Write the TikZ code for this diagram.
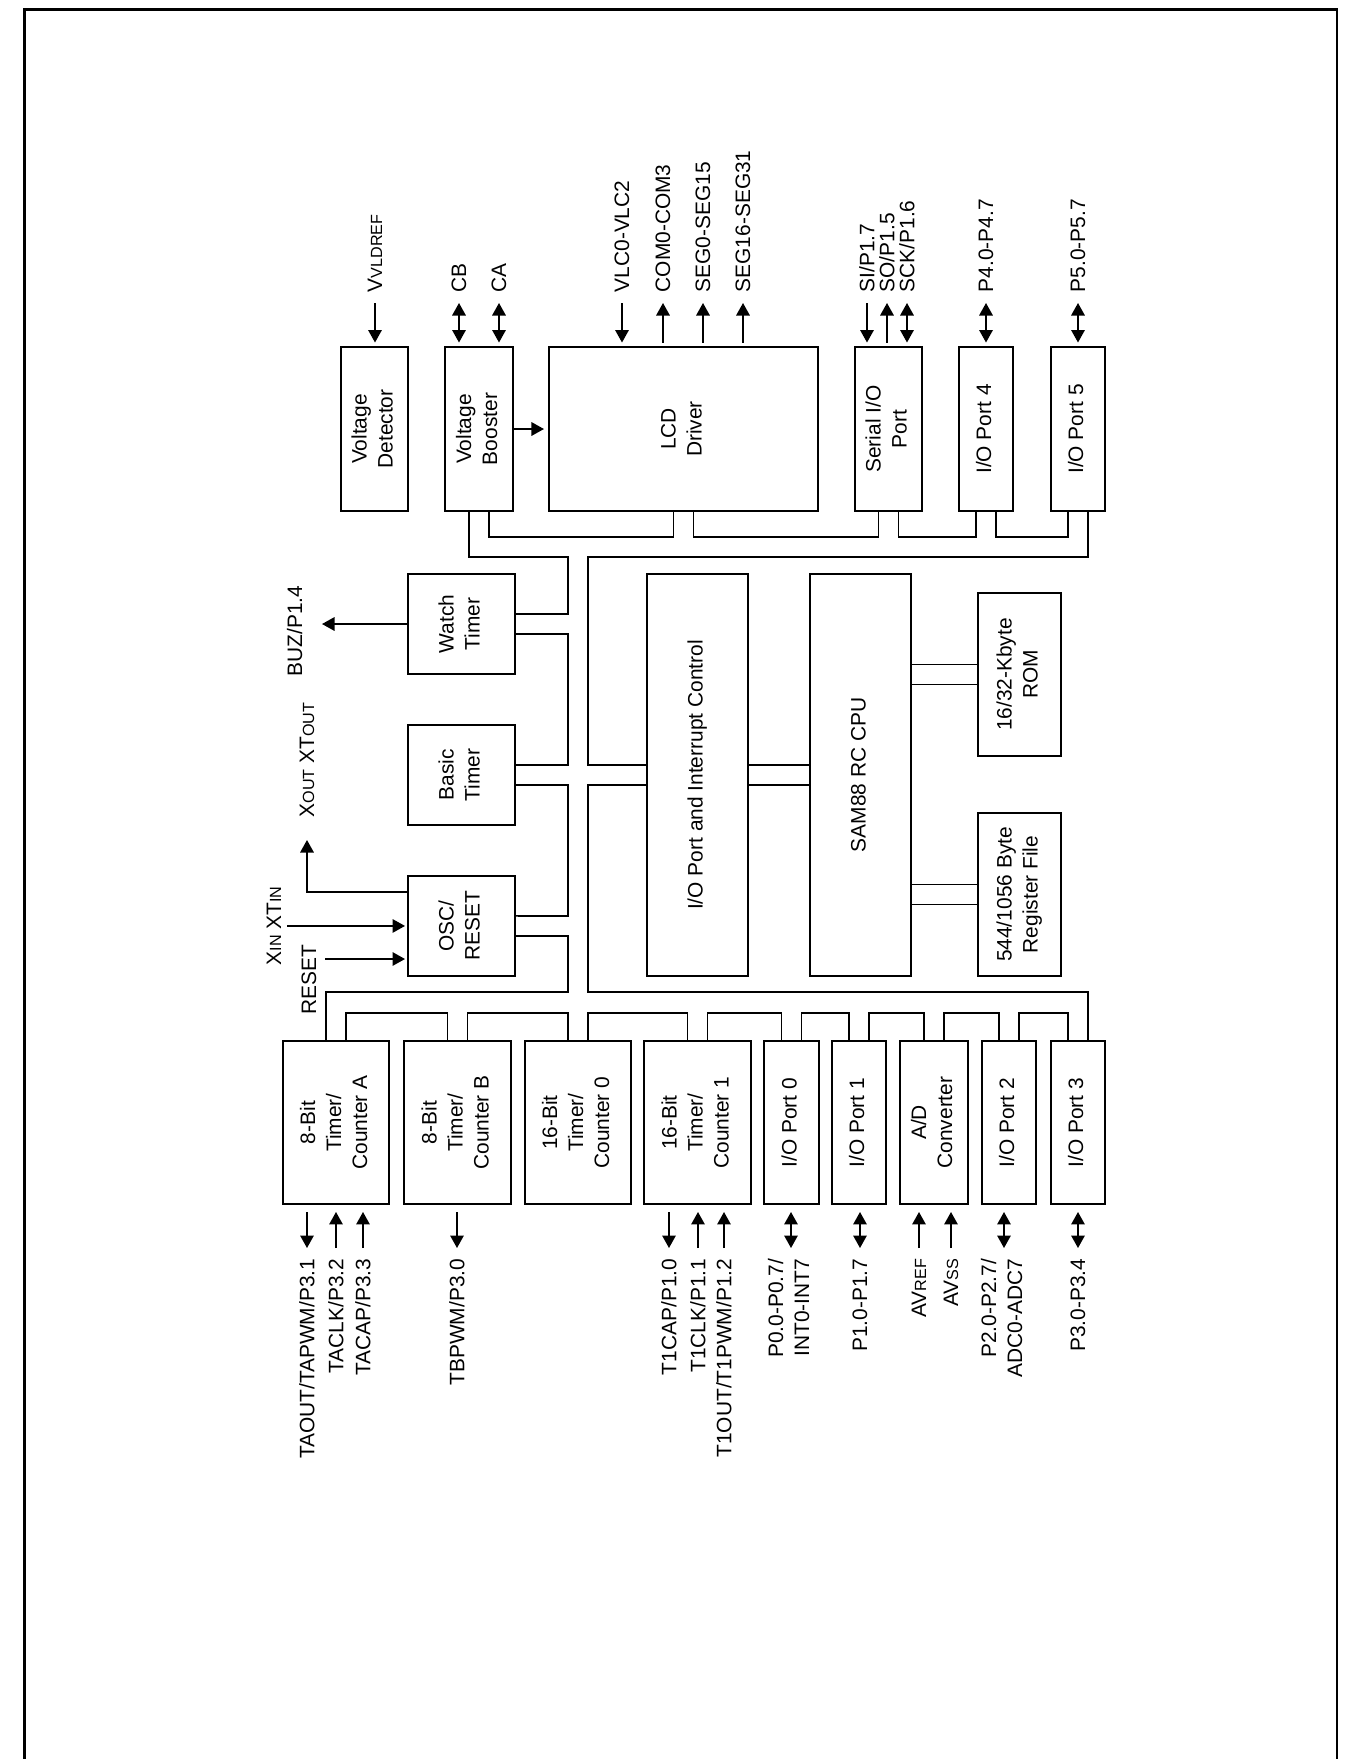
\documentclass[tikz,border=0pt]{standalone}
\usepackage{fontspec}
\setmainfont{Liberation Sans}
\usepackage{graphicx}
\usetikzlibrary{positioning, arrows.meta, calc}

\newcommand{\rot}[1]{\rotatebox{90}{\begin{tabular}{@{}c@{}}#1\end{tabular}}}
\newcommand{\rotr}[1]{\rotatebox{90}{\begin{tabular}{@{}r@{}}#1\end{tabular}}}
\newcommand{\rtxt}[1]{\rotatebox{90}{#1}}
\newcommand{\sml}[1]{{\fontsize{9.2}{10}\selectfont #1}}

\begin{document}
\begin{tikzpicture}[x=0.02cm,y=-0.02cm,line width=0.9pt,font=\fontsize{11.9}{14.8}\selectfont,
  block/.style={draw,inner sep=0pt,outer sep=0pt,text centered},
  pinlbl/.style={inner sep=0.2cm},
  inarr/.style={-{Triangle[length=2.5mm,width=2.7mm]},shorten >=#1},inarr/.default=0.09cm,
  outarr/.style={-{Triangle[length=2.5mm,width=2.7mm]},shorten <=#1},outarr/.default=0.09cm,
  bidir/.style={{Triangle[length=2.5mm,width=2.7mm]}-{Triangle[length=2.5mm,width=2.7mm]},shorten >=#1},bidir/.default=0.09cm]

\useasboundingbox (0,0) rectangle (1354,1759);

% Page frame
\draw[line width=1.6pt] (24.5,1775) -- (24.5,9.5) -- (1337,9.5) -- (1337,1775);

% Top row
\node[block,minimum width=1.34cm,minimum height=3.28cm] (vdet) at (374.5,429) {\rot{Voltage\\Detector}};
\node[block,minimum width=1.36cm,minimum height=3.28cm,right=0.74cm of vdet] (vboost) {\rot{Voltage\\Booster}};
\node[block,minimum width=5.38cm,minimum height=3.28cm,right=0.72cm of vboost] (lcd) {\rot{LCD\\Driver}};
\node[block,minimum width=1.34cm,minimum height=3.28cm,right=0.74cm of lcd] (sio) {\rot{Serial I/O\\Port}};
\node[block,minimum width=1.08cm,minimum height=3.28cm,right=0.74cm of sio] (io4) {\rot{I/O Port 4}};
\node[block,minimum width=1.08cm,minimum height=3.28cm,right=0.76cm of io4] (io5) {\rot{I/O Port 5}};

% Timers on the left
\node[block,minimum width=2.14cm,minimum height=2cm] (watch) at (461.5,624) {\rot{Watch\\Timer}};
\node[block,minimum width=2.14cm,minimum height=2cm,below=1.02cm of watch] (basic) {\rot{Basic\\Timer}};
\node[block,minimum width=2.14cm,minimum height=2cm,below=1.02cm of basic] (osc) {\rot{OSC/\\RESET}};

% Core
\node[block,minimum width=2.02cm,minimum height=8.04cm] (ioctl) at (697.5,775) {\rot{I/O Port and Interrupt Control}};
\node[block,minimum width=2.02cm,minimum height=8.04cm,right=1.24cm of ioctl] (cpu) {\rot{SAM88 RC CPU}};
\node[block,minimum width=1.66cm,minimum height=3.26cm] (rom) at (1019.5,674.5) {\rot{16/32-Kbyte\\ROM}};
\node[block,minimum width=1.66cm,minimum height=3.26cm,below=1.14cm of rom] (regf) {\rot{544/1056 Byte\\Register File}};

% Bottom row
\node[block,minimum width=2.12cm,minimum height=3.26cm] (tca) at (336,1122.5) {\rot{8-Bit\\Timer/\\Counter A}};
\node[block,minimum width=2.14cm,minimum height=3.26cm,right=0.3cm of tca] (tcb) {\rot{8-Bit\\Timer/\\Counter B}};
\node[block,minimum width=2.12cm,minimum height=3.26cm,right=0.28cm of tcb] (tc0) {\rot{16-Bit\\Timer/\\Counter 0}};
\node[block,minimum width=2.14cm,minimum height=3.26cm,right=0.26cm of tc0] (tc1) {\rot{16-Bit\\Timer/\\Counter 1}};
\node[block,minimum width=1.1cm,minimum height=3.26cm,right=0.26cm of tc1] (io0) {\rot{I/O Port 0}};
\node[block,minimum width=1.08cm,minimum height=3.26cm,right=0.26cm of io0] (io1) {\rot{I/O Port 1}};
\node[block,minimum width=1.36cm,minimum height=3.26cm,right=0.28cm of io1] (adc) {\rot{A/D\\Converter}};
\node[block,minimum width=1.08cm,minimum height=3.26cm,right=0.28cm of adc] (io2) {\rot{I/O Port 2}};
\node[block,minimum width=1.08cm,minimum height=3.26cm,right=0.3cm of io2] (io3) {\rot{I/O Port 3}};

% Outer bus
\draw ($(vboost.south)+(-10,0)$) |- (568,557) |- ($(watch.east)+(0,-10)$);
\draw ($(watch.east)+(0,10)$) -| (568,765) -- ($(basic.east)+(0,-10)$);
\draw ($(basic.east)+(0,10)$) -| (568,916) -- ($(osc.east)+(0,-10)$);
\draw ($(osc.east)+(0,10)$) -| (568,992) -| ($(tca.north)+(-10,0)$);

% Inner bus
\draw ($(io5.south)+(10,0)$) |- (588,557) |- ($(ioctl.west)+(0,-10)$);
\draw ($(ioctl.west)+(0,10)$) -| (588,992) -| ($(io3.north)+(10,0)$);

% Links along the top row
\draw ($(vboost.south)+(10,0)$) -- ++(0,26) -| ($(lcd.south)+(-10,0)$);
\draw ($(lcd.south)+(10,0)$) -- ++(0,26) -| ($(sio.south)+(-10,0)$);
\draw ($(sio.south)+(10,0)$) -- ++(0,26) -| ($(io4.south)+(-10,0)$);
\draw ($(io4.south)+(10,0)$) -- ++(0,26) -| ($(io5.south)+(-10,0)$);

% Links along the bottom row
\draw ($(tca.north)+(10,0)$) -- ++(0,-28) -| ($(tcb.north)+(-10,0)$);
\draw ($(tcb.north)+(10,0)$) -- ++(0,-28) -| ($(tc0.north)+(-10,0)$);
\draw ($(tc0.north)+(10,0)$) -- ++(0,-28) -| ($(tc1.north)+(-10,0)$);
\draw ($(tc1.north)+(10,0)$) -- ++(0,-28) -| ($(io0.north)+(-10,0)$);
\draw ($(io0.north)+(10,0)$) -- ++(0,-28) -| ($(io1.north)+(-10,0)$);
\draw ($(io1.north)+(10,0)$) -- ++(0,-28) -| ($(adc.north)+(-10,0)$);
\draw ($(adc.north)+(10,0)$) -- ++(0,-28) -| ($(io2.north)+(-10,0)$);
\draw ($(io2.north)+(10,0)$) -- ++(0,-28) -| ($(io3.north)+(-10,0)$);

% CPU links
\draw ($(ioctl.east)+(0,-10)$) -- ($(cpu.west)+(0,-10)$);
\draw ($(ioctl.east)+(0,10)$) -- ($(cpu.west)+(0,10)$);
\draw ($(rom.west)+(0,-10)$) coordinate (rom1) -- (rom1 -| cpu.east);
\draw ($(rom.west)+(0,10)$) coordinate (rom2) -- (rom2 -| cpu.east);
\draw ($(regf.west)+(0,-10)$) coordinate (reg1) -- (reg1 -| cpu.east);
\draw ($(regf.west)+(0,10)$) coordinate (reg2) -- (reg2 -| cpu.east);
\draw[inarr=0.1cm] (vboost.east) -- (lcd.west);

% Pins above the top row
\coordinate (vldpin) at (375,303);
\coordinate (cbpin) at (459,303);
\coordinate (capin) at (499,303);
\coordinate (vlcpin) at (622,303);
\coordinate (compin) at (663,303);
\coordinate (seglpin) at (703,303);
\coordinate (seghpin) at (743,303);
\coordinate (sipin) at (867,303);
\coordinate (sopin) at (887,303);
\coordinate (sckpin) at (907,303);
\coordinate (p4pin) at (986,303);
\coordinate (p5pin) at (1078,303);

\draw[inarr] (vldpin) -- (vldpin |- vdet.north);
\draw[bidir] (cbpin) -- (cbpin |- vboost.north);
\draw[bidir] (capin) -- (capin |- vboost.north);
\draw[inarr] (vlcpin) -- (vlcpin |- lcd.north);
\draw[outarr] (compin |- lcd.north) -- (compin);
\draw[outarr] (seglpin |- lcd.north) -- (seglpin);
\draw[outarr] (seghpin |- lcd.north) -- (seghpin);
\draw[inarr] (sipin) -- (sipin |- sio.north);
\draw[outarr] (sopin |- sio.north) -- (sopin);
\draw[bidir] (sckpin) -- (sckpin |- sio.north);
\draw[bidir] (p4pin) -- (p4pin |- io4.north);
\draw[bidir] (p5pin) -- (p5pin |- io5.north);

\node[pinlbl,anchor=south] (vldlbl) at (vldpin) {\rtxt{V\sml{VLDREF}}};
\node[pinlbl,anchor=south] (cblbl) at (cbpin) {\rtxt{CB}};
\node[pinlbl,anchor=south] (calbl) at (capin) {\rtxt{CA}};
\node[pinlbl,anchor=south] (vlclbl) at (vlcpin) {\rtxt{VLC0-VLC2}};
\node[pinlbl,anchor=south] (comlbl) at (compin) {\rtxt{COM0-COM3}};
\node[pinlbl,anchor=south] (segllbl) at (seglpin) {\rtxt{SEG0-SEG15}};
\node[pinlbl,anchor=south] (seghlbl) at (seghpin) {\rtxt{SEG16-SEG31}};
\node[pinlbl,anchor=south] (silbl) at (sipin) {\rtxt{SI/P1.7}};
\node[pinlbl,anchor=south] (solbl) at (sopin) {\rtxt{SO/P1.5}};
\node[pinlbl,anchor=south] (scklbl) at (sckpin) {\rtxt{SCK/P1.6}};
\node[pinlbl,anchor=south] (p4lbl) at (p4pin) {\rtxt{P4.0-P4.7}};
\node[pinlbl,anchor=south] (p5lbl) at (p5pin) {\rtxt{P5.0-P5.7}};

% Pins on the left
\coordinate (buzpin) at (322,624);
\coordinate (xoutpin) at (307,840);
\coordinate (xinpin) at (287,926);
\coordinate (rstpin) at (325,959);

\draw[outarr=0pt] (watch.west) -- (buzpin);
\draw[outarr=0pt] ($(osc.west)+(0,-34)$) -| (xoutpin);
\draw[inarr=0.06cm] (xinpin) -- (osc.west);
\draw[inarr=0.06cm] (rstpin) -- (rstpin -| osc.west);

\node[pinlbl,anchor=east] (buzlbl) at ($(buzpin)+(-9,7)$) {\rtxt{BUZ/P1.4}};
\node[pinlbl,anchor=south] (xoutlbl) at ($(xoutpin)+(0,-12)$) {\rtxt{X\sml{OUT} XT\sml{OUT}}};
\node[pinlbl,anchor=east] (xinlbl) at ($(xinpin)+(5,0)$) {\rtxt{X\sml{IN} XT\sml{IN}}};
\node[pinlbl,anchor=east] (rstlbl) at ($(rstpin)+(2,21)$) {\rtxt{RESET}};

% Pins below the bottom row
\coordinate (taoutpin) at (307,1248);
\coordinate (taclkpin) at (336,1248);
\coordinate (tacappin) at (363,1248);
\coordinate (tbpwmpin) at (457,1248);
\coordinate (t1cappin) at (669,1248);
\coordinate (t1clkpin) at (698,1248);
\coordinate (t1outpin) at (724,1248);
\coordinate (p0pin) at (791,1248);
\coordinate (p1pin) at (860,1248);
\coordinate (avrefpin) at (919,1248);
\coordinate (avsspin) at (951,1248);
\coordinate (p2pin) at (1004,1248);
\coordinate (p3pin) at (1078,1248);

\draw[outarr=0.16cm] (taoutpin |- tca.south) -- (taoutpin);
\draw[inarr=0.16cm] (taclkpin) -- (taclkpin |- tca.south);
\draw[inarr=0.16cm] (tacappin) -- (tacappin |- tca.south);
\draw[outarr=0.16cm] (tbpwmpin |- tcb.south) -- (tbpwmpin);
\draw[outarr=0.16cm] (t1cappin |- tc1.south) -- (t1cappin);
\draw[inarr=0.16cm] (t1clkpin) -- (t1clkpin |- tc1.south);
\draw[inarr=0.16cm] (t1outpin) -- (t1outpin |- tc1.south);
\draw[bidir=0.16cm] (p0pin) -- (p0pin |- io0.south);
\draw[bidir=0.16cm] (p1pin) -- (p1pin |- io1.south);
\draw[inarr=0.16cm] (avrefpin) -- (avrefpin |- adc.south);
\draw[inarr=0.16cm] (avsspin) -- (avsspin |- adc.south);
\draw[bidir=0.16cm] (p2pin) -- (p2pin |- io2.south);
\draw[bidir=0.16cm] (p3pin) -- (p3pin |- io3.south);

\node[pinlbl,anchor=north] (taoutlbl) at (taoutpin) {\rtxt{TAOUT/TAPWM/P3.1}};
\node[pinlbl,anchor=north] (taclklbl) at (taclkpin) {\rtxt{TACLK/P3.2}};
\node[pinlbl,anchor=north] (tacaplbl) at (tacappin) {\rtxt{TACAP/P3.3}};
\node[pinlbl,anchor=north] (tbpwmlbl) at (tbpwmpin) {\rtxt{TBPWM/P3.0}};
\node[pinlbl,anchor=north] (t1caplbl) at (t1cappin) {\rtxt{T1CAP/P1.0}};
\node[pinlbl,anchor=north] (t1clklbl) at (t1clkpin) {\rtxt{T1CLK/P1.1}};
\node[pinlbl,anchor=north] (t1outlbl) at (t1outpin) {\rtxt{T1OUT/T1PWM/P1.2}};
\node[pinlbl,anchor=north] (p0lbl) at (p0pin) {\rotr{P0.0-P0.7/\\INT0-INT7}};
\node[pinlbl,anchor=north] (p1lbl) at (p1pin) {\rtxt{P1.0-P1.7}};
\node[pinlbl,anchor=north] (avreflbl) at (avrefpin) {\rtxt{AV\sml{REF}}};
\node[pinlbl,anchor=north] (avsslbl) at (avsspin) {\rtxt{AV\sml{SS}}};
\node[pinlbl,anchor=north] (p2lbl) at (p2pin) {\rotr{P2.0-P2.7/\\ADC0-ADC7}};
\node[pinlbl,anchor=north] (p3lbl) at (p3pin) {\rtxt{P3.0-P3.4}};

\end{tikzpicture}
\end{document}
